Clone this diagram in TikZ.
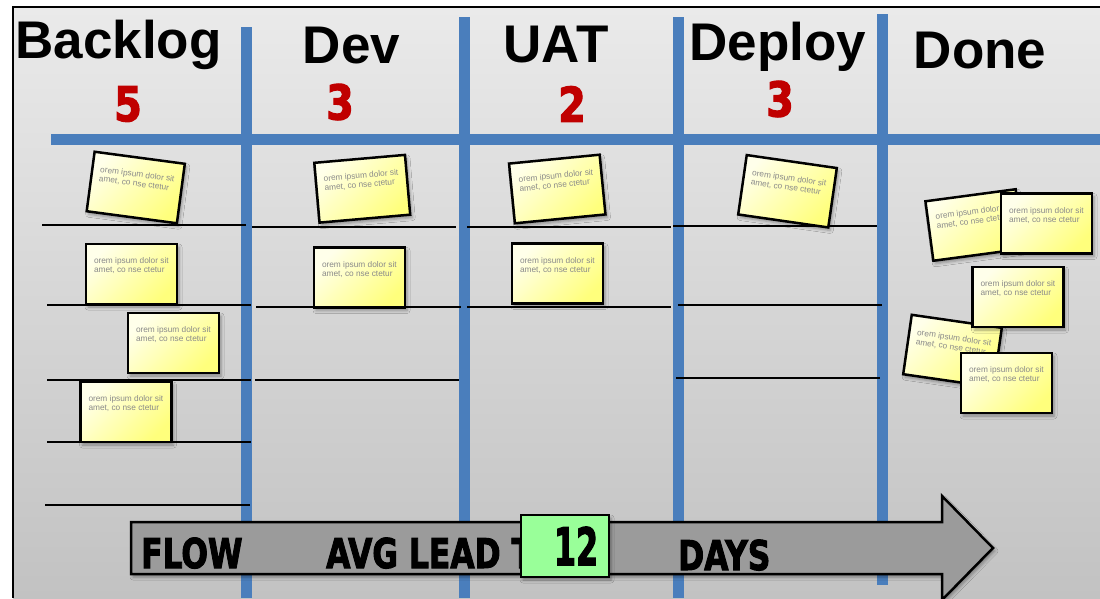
\documentclass[tikz,border=0pt]{standalone}
\usepackage{fontspec}
\setmainfont{Liberation Sans}
\newfontfamily\comicfont[BoldFeatures={FakeBold=2.5}]{DejaVu Sans Condensed}
\usetikzlibrary{shadows.blur}
\definecolor{boardtop}{HTML}{EAEAEA}
\definecolor{boardbot}{HTML}{C2C2C2}
\definecolor{kblue}{RGB}{74,126,188}
\definecolor{cntred}{HTML}{C00000}
\definecolor{notelight}{HTML}{FFFFEA}
\definecolor{noteyel}{HTML}{FFFF7C}
\definecolor{notegray}{HTML}{8A8A8A}
\definecolor{arrowgray}{HTML}{9B9B9B}
\definecolor{leadgreen}{HTML}{99FF99}
\newcommand\lorem{\parbox[c][44pt][t]{75pt}{\raggedright\vspace*{5.5pt}orem ipsum dolor sit\\amet, co nse ctetur}}
\tikzset{
  blueline/.style={draw=kblue, line width=11pt},
  rowline/.style={draw=black, line width=2.5pt},
  hdr/.style={font=\fontsize{53}{53}\selectfont\bfseries, inner sep=0pt, anchor=base},
  cnt/.style={font={\comicfont\bfseries\fontsize{48}{48}\selectfont}, text=cntred, inner sep=0pt, xscale=0.92},
  flowtxt/.style={font={\comicfont\bfseries\fontsize{41}{41}\selectfont}, xscale=0.85, inner sep=0pt, anchor=base west},
  softshadow/.style={blur shadow={shadow xshift=2pt, shadow yshift=-3pt, shadow blur radius=3pt, shadow opacity=35}},
  note/.style={draw=black, line width=2.5pt, top color=notelight, bottom color=noteyel, shading angle=45,
    minimum width=91pt, minimum height=60pt, inner sep=8pt, softshadow,
    font=\fontsize{8.3}{9.3}\selectfont, text=notegray},
}
\begin{document}
\begin{tikzpicture}[x=1pt,y=-1pt]
\useasboundingbox (0,0) rectangle (1100,598);
\fill[white] (0,0) rectangle (1100,598);
\shade[top color=boardtop, bottom color=boardbot] (13,7) rectangle (1100,598);
\draw[line width=2.5pt] (13,598) -- (13,7) -- (1100,7);

% blue grid
\draw[blueline] (246,27) -- (246,598);
\draw[blueline] (464,17) -- (464,598);
\draw[blueline] (678,17) -- (678,598);
\draw[blueline] (882,14) -- (882,585);
\draw[blueline] (51,139) -- (1100,139);

% row separators
\draw[rowline] (42,225) -- (246,225);
\draw[rowline] (47,305) -- (251,305);
\draw[rowline] (47,380) -- (251,380);
\draw[rowline] (47,442) -- (251,442);
\draw[rowline] (45,505) -- (250,505);
\draw[rowline] (252,227) -- (456,227);
\draw[rowline] (256,307) -- (461,307);
\draw[rowline] (255,380) -- (459,380);
\draw[rowline] (467,227) -- (671,227);
\draw[rowline] (467,307) -- (671,307);
\draw[rowline] (673,226) -- (877,226);
\draw[rowline] (678,305) -- (882,305);
\draw[rowline] (676,378) -- (880,378);

% headers
\node[hdr] (hBacklog) at (118.5,58) {Backlog};
\node[hdr] (hDev) at (351.5,63) {Dev};
\node[hdr] (hUAT) at (556,62) {UAT};
\node[hdr] (hDeploy) at (778,60) {Deploy};
\node[hdr] (hDone) at (980,68) {Done};

% WIP counts
\node[cnt] (cBacklog) at (128,104) {5};
\node[cnt] (cDev) at (340,102) {3};
\node[cnt] (cUAT) at (572,104) {2};
\node[cnt] (cDeploy) at (780,99) {3};

% sticky notes
\node[note, rotate=-7.6] (b1) at (135.75,187.5) {\lorem};
\node[note] (b2) at (131.5,274) {\lorem};
\node[note] (b3) at (173.5,343) {\lorem};
\node[note] (b4) at (126,412) {\lorem};
\node[note, rotate=5] (d1) at (362.25,188.75) {\lorem};
\node[note] (d2) at (359.5,277.5) {\lorem};
\node[note, rotate=5.6] (u1) at (557.25,189) {\lorem};
\node[note] (u2) at (557.5,273.5) {\lorem};
\node[note, rotate=-8.2] (p1) at (787.5,191.25) {\lorem};
\node[note, rotate=7.6] (n1) at (974.5,225) {\lorem};
\node[note] (n2) at (1046.5,223.5) {\lorem};
\node[note, rotate=-8.2] (n4) at (952.5,351) {\lorem};
\node[note] (n3) at (1018,297) {\lorem};
\node[note] (n5) at (1006.5,383) {\lorem};

% flow arrow
\draw[line width=2.5pt, fill=arrowgray, softshadow]
  (131,522) -- (942,522) -- (942,496) -- (993,548) -- (942,600) -- (942,574) -- (131,574) -- cycle;
\node[flowtxt] (tFlow) at (141,568) {FLOW};
\node[flowtxt] (tLead) at (326,568) {AVG LEAD T};
\node[draw=black, line width=2.5pt, fill=leadgreen, minimum width=88pt, minimum height=62pt, softshadow] (lead) at (565,546) {};
\node[font={\comicfont\bfseries\fontsize{52}{52}\selectfont}, xscale=0.68, inner sep=0pt] (tTwelve) at (576,546) {12};
\node[flowtxt] (tDays) at (678,570) {DAYS};
\end{tikzpicture}
\end{document}
